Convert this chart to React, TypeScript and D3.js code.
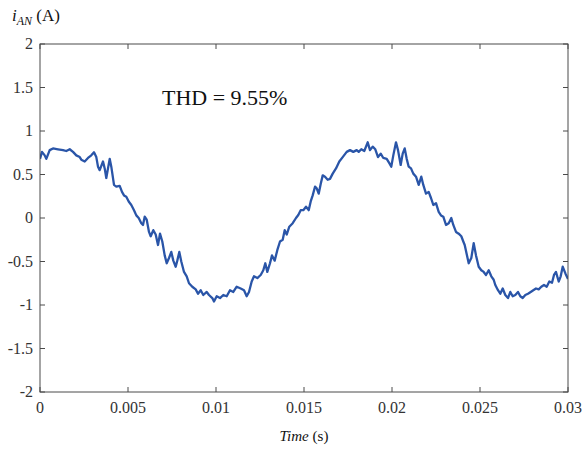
import React from "react";
import * as d3 from "d3";

const timeMs = [
  0.0, 0.114, 0.267, 0.358, 0.551, 0.739, 1.023, 1.307, 1.494, 1.688, 1.875, 2.063, 2.256, 2.347, 2.54, 2.727, 2.915, 3.068, 3.199, 3.295, 3.392, 3.483, 3.58, 3.676, 3.767, 3.864, 3.96, 4.051, 4.205, 4.335, 4.528, 4.659, 4.773, 4.903, 5.04, 5.188, 5.341, 5.472, 5.608, 5.756, 5.852, 5.949,
  6.063, 6.193, 6.29, 6.438, 6.574, 6.705, 6.818, 6.949, 7.085, 7.199, 7.33, 7.46, 7.574, 7.71, 7.801, 7.915, 8.028, 8.182, 8.335, 8.466, 8.653, 8.847, 8.977, 9.131, 9.278, 9.472, 9.602, 9.79, 9.886, 10.04, 10.227, 10.415, 10.608, 10.795, 10.983, 11.176, 11.403, 11.591, 11.744, 11.875,
  12.028, 12.159, 12.347, 12.54, 12.688, 12.801, 12.915, 13.068, 13.182, 13.335, 13.483, 13.636, 13.79, 13.903, 14.017, 14.165, 14.358, 14.545, 14.676, 14.812, 14.96, 15.114, 15.267, 15.381, 15.494, 15.625, 15.722, 15.835, 15.949, 16.063, 16.193, 16.347, 16.477, 16.631, 16.818, 17.006, 17.199, 17.426, 17.614, 17.801, 17.994,
  18.108, 18.256, 18.426, 18.619, 18.75, 18.903, 19.051, 19.205, 19.358, 19.506, 19.699, 19.847, 19.96, 20.074, 20.227, 20.341, 20.494, 20.608, 20.722, 20.835, 20.949, 21.08, 21.21, 21.364, 21.517, 21.665, 21.778, 21.932, 22.085, 22.216, 22.347, 22.5, 22.653, 22.784, 22.915, 23.068, 23.222, 23.369, 23.483, 23.636, 23.79, 23.938, 24.051,
  24.131, 24.261, 24.358, 24.506, 24.642, 24.773, 24.926, 25.074, 25.21, 25.341, 25.494, 25.642, 25.778, 25.869, 26.023, 26.153, 26.29, 26.438, 26.591, 26.722, 26.858, 27.006, 27.159, 27.29, 27.426, 27.574, 27.727, 27.881, 28.028, 28.182, 28.335, 28.483, 28.636, 28.79, 28.938, 29.091, 29.205, 29.318, 29.472, 29.585, 29.699, 29.858, 30.0,
];

const currentA = [
  0.68, 0.76, 0.72, 0.68, 0.78, 0.8, 0.79, 0.78, 0.77, 0.79, 0.76, 0.72, 0.7, 0.67, 0.65, 0.69, 0.72, 0.755, 0.7, 0.59, 0.55, 0.6, 0.65, 0.57, 0.46, 0.57, 0.68, 0.59, 0.38, 0.36, 0.37, 0.3, 0.26, 0.245, 0.19, 0.15, 0.09, 0.03, 0.0, -0.06, -0.08, 0.015,
  -0.02, -0.16, -0.21, -0.14, -0.19, -0.31, -0.18, -0.27, -0.43, -0.52, -0.46, -0.39, -0.49, -0.56, -0.49, -0.39, -0.5, -0.62, -0.67, -0.75, -0.79, -0.82, -0.87, -0.83, -0.885, -0.85, -0.885, -0.92, -0.96, -0.9, -0.92, -0.885, -0.9, -0.83, -0.85, -0.79, -0.81, -0.83, -0.9, -0.85,
  -0.73, -0.67, -0.69, -0.655, -0.6, -0.52, -0.62, -0.52, -0.43, -0.49, -0.37, -0.27, -0.25, -0.14, -0.19, -0.1, -0.06, 0.0, 0.035, 0.09, 0.09, 0.13, 0.09, 0.19, 0.26, 0.36, 0.34, 0.28, 0.39, 0.49, 0.475, 0.44, 0.45, 0.51, 0.57, 0.65, 0.7, 0.76, 0.78, 0.76, 0.78,
  0.76, 0.79, 0.77, 0.87, 0.78, 0.82, 0.79, 0.7, 0.74, 0.69, 0.68, 0.63, 0.59, 0.72, 0.87, 0.78, 0.61, 0.74, 0.8, 0.68, 0.59, 0.57, 0.51, 0.475, 0.38, 0.475, 0.38, 0.28, 0.3, 0.23, 0.15, 0.17, 0.07, 0.03, 0.015, -0.08, -0.06, 0.0, -0.08, -0.16, -0.18, -0.21, -0.27,
  -0.31, -0.43, -0.52, -0.46, -0.29, -0.43, -0.56, -0.6, -0.62, -0.655, -0.6, -0.67, -0.71, -0.77, -0.83, -0.87, -0.81, -0.885, -0.92, -0.85, -0.9, -0.885, -0.85, -0.9, -0.92, -0.885, -0.87, -0.85, -0.83, -0.81, -0.82, -0.79, -0.77, -0.79, -0.73, -0.745, -0.655, -0.62, -0.73, -0.67, -0.56, -0.64, -0.7,
];

const xTicks = [0, 0.005, 0.01, 0.015, 0.02, 0.025, 0.03];
const xTickLabels = ["0", "0.005", "0.01", "0.015", "0.02", "0.025", "0.03"];
const yTicks = [-2, -1.5, -1, -0.5, 0, 0.5, 1, 1.5, 2];
const yTickLabels = ["-2", "-1.5", "-1", "-0.5", "0", "0.5", "1", "1.5", "2"];

const W = 585;
const H = 450;
const M = { left: 40, right: 17, top: 44, bottom: 58 };
const FONT = "'Liberation Serif', 'Times New Roman', serif";
const AXIS = "#4a4a4a";
const TEXT = "#333333";
const fontStyle = { fontFamily: FONT };

export default function App() {
  const x = d3.scaleLinear().domain([0, 0.03]).range([M.left, W - M.right]);
  const y = d3.scaleLinear().domain([-2, 2]).range([H - M.bottom, M.top]);
  const pts: [number, number][] = timeMs.map((t, i) => [t / 1000, currentA[i]]);
  const line = d3
    .line<[number, number]>()
    .x((d) => x(d[0]))
    .y((d) => y(d[1]));
  const x0 = M.left;
  const x1 = W - M.right;
  const y0 = H - M.bottom;
  const y1 = M.top;
  const tl = 5;
  return (
    <svg width={W} height={H} style={{ position: "absolute", left: 0, top: 0, background: "#fff" }}>
      <rect x={0} y={0} width={W} height={H} fill="#fff" />
      <defs>
        <clipPath id="plotclip">
          <rect x={x0} y={y1} width={x1 - x0} height={y0 - y1} />
        </clipPath>
      </defs>
      <g clipPath="url(#plotclip)">
        <path d={line(pts) || ""} fill="none" stroke="#2a55a8" strokeWidth={2.3} strokeLinejoin="round" />
      </g>
      <rect x={x0} y={y1} width={x1 - x0} height={y0 - y1} fill="none" stroke={AXIS} strokeWidth={1} />
      {xTicks.map((t, i) => (
        <g key={"x" + i}>
          <line x1={x(t)} x2={x(t)} y1={y0} y2={y0 - tl} stroke={AXIS} />
          <line x1={x(t)} x2={x(t)} y1={y1} y2={y1 + tl} stroke={AXIS} />
          <text x={x(t)} y={y0 + 21} textAnchor="middle" fontSize={16} fill={TEXT} style={fontStyle}>
            {xTickLabels[i]}
          </text>
        </g>
      ))}
      {yTicks.map((t, i) => (
        <g key={"y" + i}>
          <line x1={x0} x2={x0 + tl} y1={y(t)} y2={y(t)} stroke={AXIS} />
          <line x1={x1} x2={x1 - tl} y1={y(t)} y2={y(t)} stroke={AXIS} />
          <text x={x0 - 7} y={y(t) + 5} textAnchor="end" fontSize={16} fill={TEXT} style={fontStyle}>
            {yTickLabels[i]}
          </text>
        </g>
      ))}
      <text x={(x0 + x1) / 2} y={441} textAnchor="middle" fontSize={15} fill="#111" style={fontStyle}>
        <tspan fontStyle="italic">Time</tspan>
        <tspan> (s)</tspan>
      </text>
      <text x={12} y={21} fontSize={17} fill="#111" style={fontStyle}>
        <tspan fontStyle="italic">i</tspan>
        <tspan fontStyle="italic" fontSize={12} dy={4}>AN</tspan>
        <tspan dy={-4}> (A)</tspan>
      </text>
      <text x={162} y={105} fontSize={22} fill="#111" style={fontStyle}>
        THD = 9.55%
      </text>
    </svg>
  );
}
